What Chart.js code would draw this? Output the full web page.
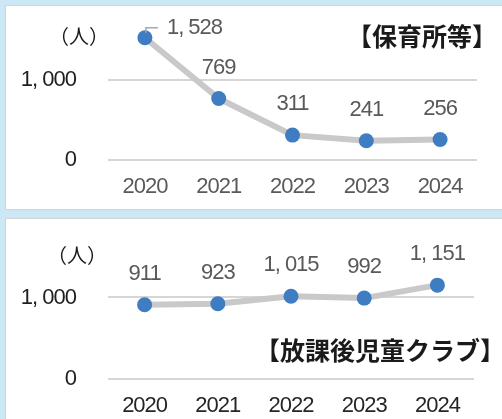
<!DOCTYPE html>
<html><head><meta charset="utf-8">
<script src="https://cdn.jsdelivr.net/npm/chart.js@4"></script>
<style>
html,body{margin:0;padding:0;}
body{width:502px;height:419px;background:#cde8f5;position:relative;overflow:hidden;font-family:"Noto Sans CJK JP",sans-serif;}
.panel{position:absolute;background:#fff;border:1px solid #d4d4d4;border-right:none;}
#p1{left:5px;top:5px;width:497px;height:203px;}
#p2{left:5px;top:218px;width:497px;height:200px;border-bottom:none;}
canvas{position:absolute;left:0;}
#c1{top:0;}
#c2{top:219px;}
.unit,.title{position:absolute;color:#1a1a1a;white-space:nowrap;line-height:1;}
.unit{font-size:20px;}
.title{font-weight:bold;}
</style>
</head>
<body>
<div class="panel" id="p1"></div>
<div class="panel" id="p2"></div>
<canvas id="c1" width="502" height="210"></canvas>
<canvas id="c2" width="502" height="200"></canvas>
<div class="unit" style="left:49px;top:26px;">（人）</div>
<div class="title" style="left:347px;top:23px;font-size:25px;">【保育所等】</div>
<div class="unit" style="left:47px;top:245px;">（人）</div>
<div class="title" style="left:255px;top:337px;font-size:25px;">【放課後児童クラブ】</div>
<script>
const years = ['2020', '2021', '2022', '2023', '2024'];
const nurseryValues = [1528, 769, 311, 241, 256];
const afterSchoolValues = [911, 923, 1015, 992, 1151];
const yTickValues = [0, 1000];

const NUM_FONT = "'Liberation Sans', Arial, sans-serif";
const NUM_SIZE = 22;

function fmt(v) {
  return Number(v).toLocaleString('en-US').replace(/,/g, ', ');
}

const narrowText = {
  id: 'narrowText',
  beforeDraw(chart) { chart.ctx.letterSpacing = '-1px'; },
  afterDraw(chart) { chart.ctx.letterSpacing = '0px'; }
};

const valueLabels = {
  id: 'valueLabels',
  afterDatasetsDraw(chart, args, opts) {
    const ctx = chart.ctx;
    const meta = chart.getDatasetMeta(0);
    const data = chart.data.datasets[0].data;
    ctx.save();
    ctx.letterSpacing = '-1px';
    ctx.font = NUM_SIZE + 'px ' + NUM_FONT;
    ctx.fillStyle = '#595959';
    ctx.textBaseline = 'middle';
    meta.data.forEach((pt, i) => {
      const txt = fmt(data[i]);
      if (opts.leaderIndex === i) {
        ctx.strokeStyle = '#a8a8a8';
        ctx.lineWidth = 1.5;
        ctx.beginPath();
        ctx.moveTo(pt.x + 1, pt.y - 5);
        ctx.lineTo(pt.x + 1, pt.y - 10);
        ctx.lineTo(pt.x + 13, pt.y - 10);
        ctx.stroke();
        ctx.textAlign = 'left';
        ctx.fillText(txt, pt.x + 22, pt.y - 10);
      } else {
        ctx.textAlign = 'center';
        ctx.fillText(txt, pt.x, pt.y - 31);
      }
    });
    ctx.restore();
  }
};

function makeChart(id, values, yMax, padTop, padRight, xHeight, xColor, leaderIndex) {
  return new Chart(document.getElementById(id), {
    type: 'line',
    data: {
      labels: years,
      datasets: [{
        data: values,
        borderColor: '#c9c9c9',
        borderWidth: 6,
        borderJoinStyle: 'round',
        pointBackgroundColor: '#3e7dc1',
        pointBorderWidth: 0,
        pointRadius: 7.5,
        tension: 0,
        cubicInterpolationMode: 'default',
        clip: false
      }]
    },
    options: {
      responsive: false,
      animation: false,
      events: [],
      elements: { line: { tension: 0 } },
      layout: { padding: { top: padTop, right: padRight, left: 0, bottom: 0 } },
      plugins: {
        legend: { display: false },
        tooltip: { enabled: false },
        valueLabels: { leaderIndex: leaderIndex }
      },
      scales: {
        x: {
          offset: true,
          grid: { display: false },
          border: { display: false },
          ticks: { color: xColor, font: { size: NUM_SIZE, family: NUM_FONT }, padding: 6, maxRotation: 0 },
          afterFit(s) { s.height = xHeight; }
        },
        y: {
          min: 0,
          max: yMax,
          grid: { color: '#d6d6d6', lineWidth: 2, drawTicks: true, tickLength: 32, tickColor: 'rgba(0,0,0,0)' },
          border: { display: false },
          afterBuildTicks(s) { s.ticks = yTickValues.map(v => ({ value: v })); },
          ticks: { color: '#1f1f1f', font: { size: NUM_SIZE, family: NUM_FONT }, padding: 0, callback: v => fmt(v) },
          afterFit(s) { s.width = 108; }
        }
      }
    },
    plugins: [narrowText, valueLabels]
  });
}

makeChart('c1', nurseryValues, 1750, 20, 25, 50, '#5a5a5a', 0);
makeChart('c2', afterSchoolValues, 1800, 12.4, 28, 40, '#262626', -1);
</script>
</body></html>
